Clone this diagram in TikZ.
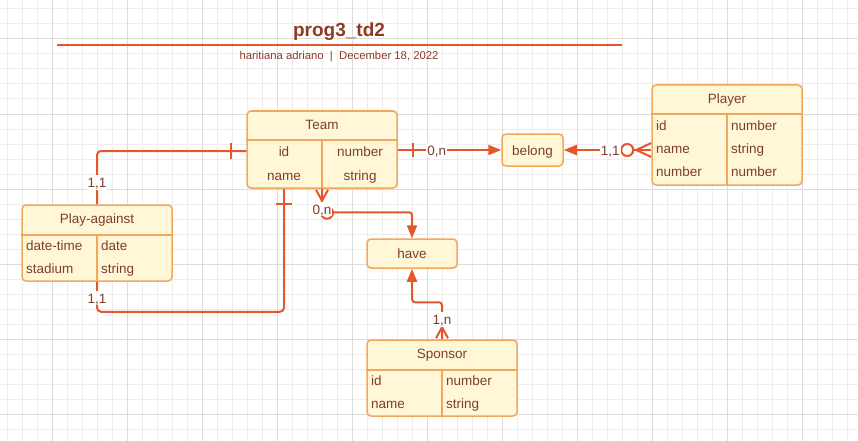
\documentclass[tikz,border=0pt]{standalone}
\usepackage{fontspec}
\setmainfont{Liberation Sans}
\usetikzlibrary{positioning, calc, arrows.meta}
\definecolor{linkred}{HTML}{E5572B}
\definecolor{boxedge}{HTML}{F4A65A}
\definecolor{boxfill}{HTML}{FFF7D8}
\definecolor{inktext}{HTML}{7D3E2E}
\definecolor{titletext}{HTML}{8E3B26}
\definecolor{gridminor}{HTML}{EDEDED}
\definecolor{gridmajor}{HTML}{DCDCDC}
\tikzset{
  entity/.style={draw=boxedge, fill=boxfill, line width=1.5pt, rounded corners=4pt, inner sep=0pt},
  divider/.style={draw=boxedge, line width=1.5pt},
  txt/.style={text=inktext, font=\fontsize{13.5}{15}\selectfont, inner sep=0pt, text height=11.5pt, text depth=1pt},
  cell/.style={txt, anchor=west},
  link/.style={draw=linkred, line width=2pt},
  card/.style={txt, fill=white, inner sep=1pt},
  arrowto/.style={-{Triangle[length=13pt,width=10pt]}}
}

\begin{document}
\begin{tikzpicture}[x=1pt, y=-1pt]
\useasboundingbox (0,0) rectangle (858,441);

% background grid
\foreach \gx in {7,22,...,857} \draw[gridminor, line width=1pt] (\gx,0) -- (\gx,441);
\foreach \gy in {9,24,...,440} \draw[gridminor, line width=1pt] (0,\gy) -- (858,\gy);
\foreach \gx in {52,127,...,857} \draw[gridmajor, line width=1pt] (\gx,0) -- (\gx,441);
\foreach \gy in {39,114,...,440} \draw[gridmajor, line width=1pt] (0,\gy) -- (858,\gy);

% title block
\node[font=\bfseries\fontsize{19}{22}\selectfont, text=titletext, inner sep=0pt] (title) at (339,32) {prog3\_td2};
\coordinate (rule-l) at (57,45);
\coordinate (rule-r) at (622,45);
\draw[linkred, line width=1.5pt] (rule-l) -- (rule-r);
\node[font=\fontsize{11.3}{13}\selectfont, text=titletext, inner sep=0pt] (byline) at (339,57) {haritiana adriano \ | \ December 18, 2022};

% Team
\node[entity, minimum width=150pt, minimum height=77pt] (team) at (322,149.5) {};
\draw[divider] (team.west |- 0,140) -- (team.east |- 0,140);
\draw[divider] (322,140) -- (team.south);
\node[txt] (team-head) at (322,124) {Team};
\node[txt] (team-id) at (284,151) {id};
\node[txt] (team-idtype) at (360,151) {number};
\node[txt] (team-name) at (284,175) {name};
\node[txt] (team-nametype) at (360,175) {string};

% Player
\node[entity, minimum width=150pt, minimum height=100pt] (player) at (727,135) {};
\draw[divider] (player.west |- 0,114) -- (player.east |- 0,114);
\draw[divider] (727,114) -- (player.south);
\node[txt] (player-head) at (727,98) {Player};
\node[cell] (player-id) at (656,125) {id};
\node[cell] (player-idtype) at (731,125) {number};
\node[cell] (player-name) at (656,148) {name};
\node[cell] (player-nametype) at (731,148) {string};
\node[cell] (player-num) at (656,171) {number};
\node[cell] (player-numtype) at (731,171) {number};

% Play-against
\node[entity, minimum width=150pt, minimum height=76pt] (play) at (97,243) {};
\draw[divider] (play.west |- 0,235) -- (play.east |- 0,235);
\draw[divider] (97,235) -- (play.south);
\node[txt] (play-head) at (97,218) {Play-against};
\node[cell] (play-date) at (26,245) {date-time};
\node[cell] (play-datetype) at (101,245) {date};
\node[cell] (play-stadium) at (26,268) {stadium};
\node[cell] (play-stadiumtype) at (101,268) {string};

% Sponsor
\node[entity, minimum width=150pt, minimum height=76pt] (sponsor) at (442,378) {};
\draw[divider] (sponsor.west |- 0,370) -- (sponsor.east |- 0,370);
\draw[divider] (442,370) -- (sponsor.south);
\node[txt] (sponsor-head) at (442,353) {Sponsor};
\node[cell] (sponsor-id) at (371,380) {id};
\node[cell] (sponsor-idtype) at (446,380) {number};
\node[cell] (sponsor-name) at (371,403) {name};
\node[cell] (sponsor-nametype) at (446,403) {string};

% relations
\node[entity, txt, minimum width=61pt, minimum height=32pt] (belong) at (532.5,150) {belong};
\node[entity, txt, minimum width=90pt, minimum height=29pt] (have) at (412,253.5) {have};

% Team -- belong
\coordinate (tb-start) at (team.east |- belong.west);
\draw[link, arrowto] (tb-start) -- (belong.west);
\draw[link] ($(tb-start)+(15,-7)$) -- ++(0,14);
\node[card] (card-tb) at ($(tb-start)+(39,0)$) {0,n};

% Player -- belong
\coordinate (pb-start) at (player.west |- belong.east);
\draw[link, arrowto] (pb-start) -- (belong.east);
\draw[link] ($(pb-start)+(0,-7)$) -- ($(pb-start)+(-15,0)$) -- ($(pb-start)+(0,7)$);
\draw[link, fill=white] ($(pb-start)+(-24,0)$) circle[radius=6pt];
\node[card] (card-pb) at ($(pb-start)+(-41,0)$) {1,1};

% Team -- Play-against (top)
\coordinate (tp-start) at (team.west |- team-id);
\draw[link, rounded corners=4pt] (tp-start) -| (play.north);
\draw[link] ($(tp-start)+(-15,-8)$) -- ++(0,16);
\node[card] (card-tp) at ($(play.north)+(0,-22)$) {1,1};

% Team -- Play-against (bottom)
\coordinate (tq-start) at (team.south -| team-id);
\draw[link, rounded corners=4pt] (tq-start) -- ++(0,123) -| (play.south);
\draw[link] ($(tq-start)+(-8,15)$) -- ++(16,0);
\node[card] (card-tq) at ($(play.south)+(0,16)$) {1,1};

% Team -- have
\draw[link, arrowto, rounded corners=3pt] (team.south) |- ($(have.north)+(0,-26)$) -- (have.north);
\draw[link] ($(team.south)+(-6,1)$) -- ($(team.south)+(0,12)$) -- ($(team.south)+(6,1)$);
\draw[link, fill=white] ($(team.south)+(5,24)$) circle[radius=6pt];
\node[card] (card-th) at ($(team.south)+(0,20)$) {0,n};

% Sponsor -- have
\draw[link, arrowto, rounded corners=3pt] (sponsor.north) -- ++(0,-37) -| (have.south);
\draw[link] ($(sponsor.north)+(-6,-1)$) -- ($(sponsor.north)+(0,-12)$) -- ($(sponsor.north)+(6,-1)$);
\node[card] (card-sh) at ($(sponsor.north)+(0,-20)$) {1,n};
\end{tikzpicture}
\end{document}
